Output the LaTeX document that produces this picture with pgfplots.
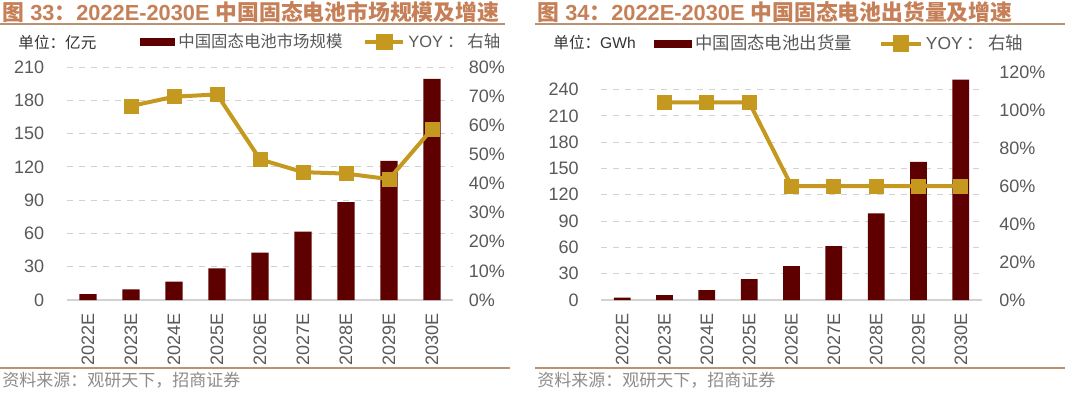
\documentclass[border=0pt]{standalone}
\usepackage{pgfplots}
\pgfplotsset{compat=1.18}
\usepackage{fontspec}
\setmainfont{Liberation Sans}
\newfontfamily\cjk{Noto Sans CJK SC}
\definecolor{barred}{RGB}{94,0,0}
\definecolor{gold}{RGB}{197,153,32}
\definecolor{tickgray}{RGB}{89,89,89}
\definecolor{titlec}{RGB}{198,128,88}
\definecolor{rulec}{RGB}{186,146,116}
\definecolor{gridc}{RGB}{210,210,210}
\definecolor{srcc}{RGB}{140,140,140}
\pgfplotsset{
  common/.style={
    scale only axis, anchor=south west,
    xmin=-0.5, xmax=8.5,
    /pgf/number format/assume math mode=true,
    tick style={draw=none},
    ticklabel style={font=\fontsize{9}{10}\selectfont, text=tickgray},
  },
  baraxis/.style={
    common,
    axis x line*=bottom, axis y line*=left,
    y axis line style={draw=none},
    x axis line style={draw=gridc, line width=0.6pt},
    xtick={0,...,8},
    xticklabels={2022E,2023E,2024E,2025E,2026E,2027E,2028E,2029E,2030E},
    xticklabel style={rotate=90, anchor=east, inner sep=0pt, xshift=-6.5pt},
    yticklabel style={inner sep=0pt, xshift=-11pt, anchor=east},
    ymajorgrids, grid style={dashed, gridc, line width=0.5pt},
    legend columns=-1,
    legend style={draw=none, fill=none, inner sep=0pt, anchor=west,
      font=\fontsize{8.2}{9}\selectfont, text=tickgray,
      nodes={inner sep=1.5pt}},
  },
  lineaxis/.style={
    common,
    axis x line=none, axis y line*=right,
    y axis line style={draw=none},
    yticklabel={\pgfmathprintnumber{\tick}\%},
    yticklabel style={inner sep=0pt, anchor=west},
  },
  barlegendA/.style={legend image code/.code={\fill[barred] (0pt,-2pt) rectangle (17.5pt,2pt);}},
  barlegendB/.style={legend image code/.code={\fill[barred] (0pt,-2pt) rectangle (19pt,2pt);}},
  linelegendA/.style={legend image code/.code={\draw[mark repeat=2,mark phase=2,##1] plot coordinates {(0pt,0pt) (9.5pt,0pt) (19pt,0pt)};}},
  linelegendB/.style={legend image code/.code={\draw[mark repeat=2,mark phase=2,##1] plot coordinates {(0pt,0pt) (10pt,0pt) (20pt,0pt)};}},
}
\begin{document}
\begin{tikzpicture}
\fill[white] (0pt,0pt) rectangle (532.5pt,196.5pt);
\path[use as bounding box] (0pt,0pt) rectangle (532.5pt,196.5pt);
% ---------- titles, rules, sources
\node[anchor=west, inner sep=0pt, text=titlec, font=\fontsize{10.9}{12}\selectfont\bfseries] at (1pt,190.5pt)
  {{\cjk 图} 33{\cjk ：}2022E-2030E {\cjk 中国固态电池市场规模及增速}};
\node[anchor=west, inner sep=0pt, text=titlec, font=\fontsize{10.9}{12}\selectfont\bfseries] at (268.5pt,190.5pt)
  {{\cjk 图} 34{\cjk ：}2022E-2030E {\cjk 中国固态电池出货量及增速}};
\draw[rulec, line width=1pt] (0pt,184.75pt) -- (252.5pt,184.75pt);
\draw[rulec, line width=1pt] (267.5pt,184.75pt) -- (532.5pt,184.75pt);
\draw[rulec, line width=1pt] (0pt,12.65pt) -- (255pt,12.65pt);
\draw[rulec, line width=1pt] (267.5pt,12.65pt) -- (532.5pt,12.65pt);
\node[anchor=west, inner sep=0pt, text=srcc, font=\fontsize{8.5}{10}\selectfont\cjk] at (1pt,6.5pt) {资料来源：观研天下，招商证券};
\node[anchor=west, inner sep=0pt, text=srcc, font=\fontsize{8.5}{10}\selectfont\cjk] at (268.5pt,6.5pt) {资料来源：观研天下，招商证券};
\node[anchor=west, inner sep=0pt, text=black!80, font=\fontsize{7.8}{9}\selectfont\cjk] at (9pt,175pt) {单位：亿元};
\node[anchor=west, inner sep=0pt, text=black!80, font=\fontsize{7.8}{9}\selectfont] at (276.5pt,175pt) {{\cjk 单位：}GWh};
% ---------- chart 1
\begin{axis}[baraxis, at={(33.25pt,46.5pt)}, width=193.5pt, height=116.5pt,
  ymin=0, ymax=210, ytick={0,30,...,210},
  legend style={at={(0.19,1.107)}, /tikz/every even column/.append style={column sep=9pt}}]
\addplot[ybar, fill=barred, draw=none, bar width=8.65pt, barlegendA]
  coordinates {(0,5.4)(1,9.6)(2,16.5)(3,28.5)(4,42.6)(5,61.6)(6,88.3)(7,125.5)(8,199.4)};
\addlegendentry{\cjk 中国固态电池市场规模}
\addlegendimage{gold, line width=2pt, mark=square*, mark size=3.2pt, linelegendA}
\addlegendentry{YOY{\cjk\hspace{2pt}：\hspace{2pt}右轴}}
\end{axis}
\begin{axis}[lineaxis, at={(33.25pt,46.5pt)}, width=193.5pt, height=116.5pt,
  ymin=0, ymax=80, ytick={0,10,...,80},
  yticklabel style={xshift=7.5pt}]
\addplot[gold, line width=2pt, mark=square*, mark size=2.75pt]
  coordinates {(1,66.6)(2,69.8)(3,70.6)(4,48.3)(5,43.9)(6,43.4)(7,41.5)(8,58.7)};
\end{axis}
% ---------- chart 2
\begin{axis}[baraxis, at={(300.5pt,46.5pt)}, width=190.5pt, height=114pt,
  ymin=0, ymax=260, ytick={0,30,...,240},
  legend style={at={(0.139,1.125)}, font=\fontsize{8.7}{9}\selectfont,
    /tikz/every even column/.append style={column sep=12pt}}]
\addplot[ybar, fill=barred, draw=none, bar width=8.35pt, barlegendB]
  coordinates {(0,2.7)(1,5.7)(2,11.4)(3,23.9)(4,38.7)(5,61.5)(6,98.7)(7,157.6)(8,251.4)};
\addlegendentry{\cjk 中国固态电池出货量}
\addlegendimage{gold, line width=2pt, mark=square*, mark size=3.2pt, linelegendB}
\addlegendentry{YOY{\cjk\hspace{2pt}：\hspace{2pt}右轴}}
\end{axis}
\begin{axis}[lineaxis, at={(300.5pt,46.5pt)}, width=190.5pt, height=114pt,
  ymin=0, ymax=120, ytick={0,20,...,120},
  yticklabel style={xshift=8.5pt}]
\addplot[gold, line width=2pt, mark=square*, mark size=2.75pt]
  coordinates {(1,104)(2,104)(3,104)(4,60)(5,60)(6,60)(7,60)(8,60)};
\end{axis}
\end{tikzpicture}
\end{document}
